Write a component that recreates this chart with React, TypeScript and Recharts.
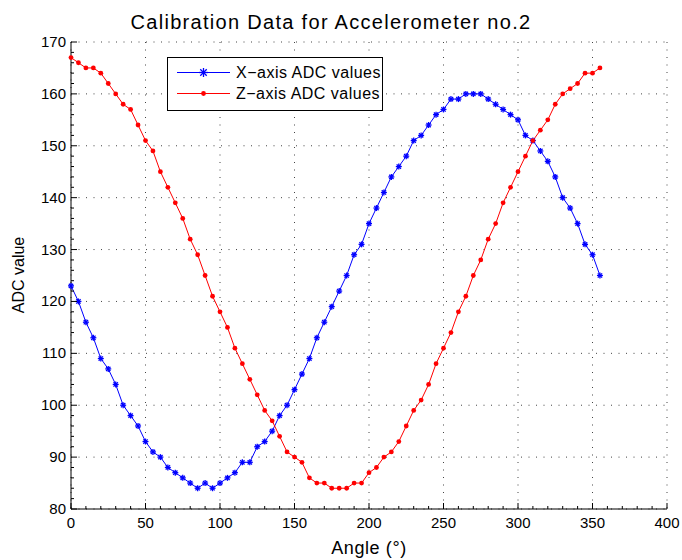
import { CartesianGrid, Legend, Line, LineChart, XAxis, YAxis } from "recharts";

const FONT = "'Liberation Sans', Arial, Helvetica, sans-serif";

// angle in degrees
const angles = [
  0, 5, 10, 15, 20, 25, 30, 35, 40, 45, 50, 55, 60, 65, 70, 75, 80, 85,
  90, 95, 100, 105, 110, 115, 120, 125, 130, 135, 140, 145, 150, 155, 160, 165,
  170, 175, 180, 185, 190, 195, 200, 205, 210, 215, 220, 225, 230, 235, 240, 245,
  250, 255, 260, 265, 270, 275, 280, 285, 290, 295, 300, 305, 310, 315, 320, 325,
  330, 335, 340, 345, 350, 355,
];

const xAxisAdc = [
  123, 120, 116, 113, 109, 107, 104, 100, 98, 96, 93, 91, 90, 88, 87, 86, 85, 84,
  85, 84, 85, 86, 87, 89, 89, 92, 93, 95, 98, 100, 103, 106, 109, 113,
  116, 119, 122, 125, 129, 131, 135, 138, 141, 144, 146, 148, 151, 152, 154, 156,
  157, 159, 159, 160, 160, 160, 159, 158, 157, 156, 155, 152, 151, 149, 147, 144,
  140, 138, 135, 131, 129, 125,
];

const zAxisAdc = [
  167, 166, 165, 165, 164, 162, 160, 158, 157, 154, 151, 149, 145, 142, 139, 136, 132, 129,
  125, 121, 118, 115, 111, 108, 105, 102, 99, 97, 94, 91, 90, 89, 86, 85,
  85, 84, 84, 84, 85, 85, 87, 88, 90, 91, 93, 96, 99, 101, 104, 108,
  111, 114, 118, 121, 125, 128, 132, 135, 139, 142, 145, 148, 151, 153, 155, 158,
  160, 161, 162, 164, 164, 165,
];

const xTicks = [0, 50, 100, 150, 200, 250, 300, 350, 400];
const yTicks = [80, 90, 100, 110, 120, 130, 140, 150, 160, 170];

const data = angles.map((a, i) => ({ angle: a, x: xAxisAdc[i], z: zAxisAdc[i] }));

// minor ticks between the majors (matlab style)
function subdivide(major: number[], n: number) {
  const out: number[] = [];
  for (let i = 0; i < major.length - 1; i++) {
    const step = (major[i + 1] - major[i]) / n;
    for (let k = 0; k < n; k++) out.push(major[i] + k * step);
  }
  out.push(major[major.length - 1]);
  return out;
}
const xAllTicks = subdivide(xTicks, 5);
const yAllTicks = subdivide(yTicks, 5);

const MAJOR = 6;
const MINOR = 3;

function BottomTick({ x, y, payload }: any) {
  const major = xTicks.includes(payload.value);
  return (
    <g>
      <line x1={x} x2={x} y1={y} y2={y - (major ? MAJOR : MINOR)} stroke="#000" />
      {major && (
        <text x={x} y={y + 19} textAnchor="middle" fontSize={15} fill="#000" fontFamily={FONT}>
          {payload.value}
        </text>
      )}
    </g>
  );
}

function TopTick({ x, y, payload }: any) {
  const major = xTicks.includes(payload.value);
  return <line x1={x} x2={x} y1={y} y2={y + (major ? MAJOR : MINOR)} stroke="#000" />;
}

function LeftTick({ x, y, payload }: any) {
  const major = yTicks.includes(payload.value);
  return (
    <g>
      <line x1={x} x2={x + (major ? MAJOR : MINOR)} y1={y} y2={y} stroke="#000" />
      {major && (
        <text x={x - 5} y={y + 5} textAnchor="end" fontSize={15} fill="#000" fontFamily={FONT}>
          {payload.value}
        </text>
      )}
    </g>
  );
}

function RightTick({ x, y, payload }: any) {
  const major = yTicks.includes(payload.value);
  return <line x1={x} x2={x - (major ? MAJOR : MINOR)} y1={y} y2={y} stroke="#000" />;
}

function Star({ cx, cy, r = 6, color = "#0000ff" }: any) {
  if (cx == null || cy == null) return null;
  const d = r * 0.72;
  return (
    <g stroke={color} strokeWidth={1.3}>
      <line x1={cx - r} x2={cx + r} y1={cy} y2={cy} />
      <line x1={cx} x2={cx} y1={cy - r} y2={cy + r} />
      <line x1={cx - d} x2={cx + d} y1={cy - d} y2={cy + d} />
      <line x1={cx - d} x2={cx + d} y1={cy + d} y2={cy - d} />
    </g>
  );
}

function Dot({ cx, cy, color = "#ff0000" }: any) {
  if (cx == null || cy == null) return null;
  return <circle cx={cx} cy={cy} r={2.4} fill={color} stroke="none" />;
}

function LegendBox() {
  return (
    <svg width={216} height={54} style={{ display: "block" }}>
      <rect x={0.5} y={0.5} width={215} height={53} fill="#fff" stroke="#000" />
      <line x1={10} x2={63} y1={15.5} y2={15.5} stroke="#0000ff" />
      <Star cx={36.5} cy={15.5} r={4.5} />
      <text x={69} y={21} fontSize={16} letterSpacing={0.5} fontFamily={FONT} fill="#000">
        X−axis ADC values
      </text>
      <line x1={10} x2={63} y1={36.5} y2={36.5} stroke="#ff0000" />
      <Dot cx={36.5} cy={36.5} />
      <text x={69} y={42} fontSize={16} letterSpacing={0.5} fontFamily={FONT} fill="#000">
        Z−axis ADC values
      </text>
    </svg>
  );
}

export default function App() {
  return (
    <div style={{ position: "absolute", left: 0, top: 0, width: 682, height: 560, background: "#fff" }}>
      <div
        style={{
          position: "absolute",
          left: 0,
          top: 12,
          width: 662,
          textAlign: "center",
          fontFamily: FONT,
          fontSize: 20,
          lineHeight: "20px",
          letterSpacing: 1.3,
          color: "#000",
        }}
      >
        Calibration Data for Accelerometer no.2
      </div>
      <LineChart width={682} height={560} data={data} margin={{ top: 42, right: 15, bottom: 0, left: 0 }}>
        <CartesianGrid
          stroke="#444"
          strokeDasharray="1 6.5"
          verticalValues={xTicks}
          horizontalValues={yTicks}
        />
        <XAxis
          dataKey="angle"
          type="number"
          domain={[0, 400]}
          ticks={xAllTicks}
          interval={0}
          height={51}
          tickSize={0}
          tickMargin={0}
          tick={<BottomTick />}
          axisLine={{ stroke: "#000" }}
          label={{
            value: "Angle (°)",
            position: "insideBottom",
            offset: 6,
            fontSize: 18,
            letterSpacing: 0.6,
            fill: "#000",
            fontFamily: FONT,
          }}
        />
        <XAxis
          xAxisId="top"
          orientation="top"
          dataKey="angle"
          type="number"
          domain={[0, 400]}
          ticks={xAllTicks}
          interval={0}
          height={0}
          tickSize={0}
          tickMargin={0}
          tick={<TopTick />}
          axisLine={false}
        />
        <YAxis
          type="number"
          domain={[80, 170]}
          ticks={yAllTicks}
          interval={0}
          width={71}
          tickSize={0}
          tickMargin={0}
          tick={<LeftTick />}
          axisLine={{ stroke: "#000" }}
          label={{
            content: () => (
              <text transform="translate(24,275) rotate(-90)" textAnchor="middle" fontSize={16} fill="#000" fontFamily={FONT}>
                ADC value
              </text>
            ),
          }}
        />
        <YAxis
          yAxisId="right"
          orientation="right"
          type="number"
          domain={[80, 170]}
          ticks={yAllTicks}
          interval={0}
          width={0}
          tickSize={0}
          tickMargin={0}
          tick={<RightTick />}
          axisLine={false}
        />
        <Legend
          layout="vertical"
          align="center"
          verticalAlign="middle"
          wrapperStyle={{ position: "absolute", left: 167, top: 57, width: 216, height: 54 }}
          content={() => <LegendBox />}
        />
        <Line
          dataKey="x"
          stroke="#0000ff"
          strokeWidth={1}
          dot={<Star />}
          activeDot={false}
          isAnimationActive={false}
        />
        <Line
          dataKey="z"
          stroke="#ff0000"
          strokeWidth={1}
          dot={<Dot />}
          activeDot={false}
          isAnimationActive={false}
        />
      </LineChart>
    </div>
  );
}
